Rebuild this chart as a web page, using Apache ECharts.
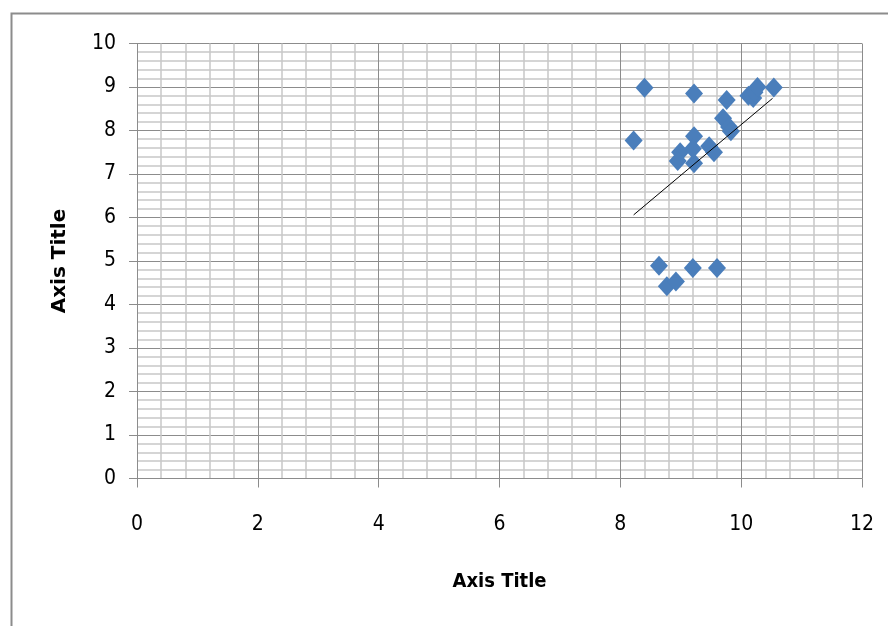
<!DOCTYPE html>
<html>
<head>
<meta charset="utf-8">
<script src="https://cdn.jsdelivr.net/npm/echarts@6/dist/echarts.min.js"></script>
<style>
html,body{margin:0;padding:0;background:#fff;}
#chart{width:888px;height:626px;}
</style>
</head>
<body>
<div id="chart"></div>
<script>
const xValues = [8.22, 8.40, 9.22, 9.76, 9.70, 9.80, 9.83, 9.22, 8.99, 8.95, 9.22, 9.20, 9.47, 9.55, 10.12, 10.20, 10.22, 10.27, 10.54, 8.64, 8.77, 8.92, 9.20, 9.60];
const yValues = [7.77, 8.98, 8.85, 8.70, 8.28, 8.08, 7.98, 7.87, 7.50, 7.30, 7.25, 7.58, 7.64, 7.50, 8.80, 8.75, 8.88, 9.00, 8.99, 4.89, 4.42, 4.53, 4.84, 4.84];
const trendX = [8.22, 10.52];
const trendY = [6.06, 8.74];
const xTicks = [0, 2, 4, 6, 8, 10, 12];
const yTicks = [0, 1, 2, 3, 4, 5, 6, 7, 8, 9, 10];

const tickFont = '"Liberation Sans Narrow", "DejaVu Sans Condensed", sans-serif';
const chart = echarts.init(document.getElementById('chart'), null, {renderer: 'canvas'});
chart.setOption({
  animation: false,
  backgroundColor: '#fff',
  graphic: [{
    type: 'rect', left: 9, top: 11, shape: {width: 900, height: 700},
    style: {fill: 'none', stroke: '#8c8c8c', lineWidth: 2}, z: -1
  }],
  grid: {left: 137, right: 26, top: 43.5, bottom: 147.5},
  xAxis: {
    type: 'value', min: xTicks[0], max: xTicks[xTicks.length - 1], interval: 2,
    name: 'Axis Title', nameLocation: 'middle', nameGap: 93,
    nameTextStyle: {fontFamily: tickFont, fontWeight: 'bold', fontSize: 20, color: '#000'},
    axisLine: {show: true, lineStyle: {color: '#8c8c8c', width: 1}},
    axisTick: {show: true, length: 9, inside: false, lineStyle: {color: '#8c8c8c'}},
    axisLabel: {fontFamily: tickFont, fontSize: 21, color: '#000', margin: 36},
    splitLine: {show: true, lineStyle: {color: '#8c8c8c', width: 1}},
    minorTick: {show: false, splitNumber: 5},
    minorSplitLine: {show: true, lineStyle: {color: '#c8c8c8', width: 1.5}}
  },
  yAxis: {
    type: 'value', min: yTicks[0], max: yTicks[yTicks.length - 1], interval: 1,
    name: 'Axis Title', nameLocation: 'middle', nameGap: 67, nameRotate: 90,
    nameTextStyle: {fontFamily: '"DejaVu Sans", sans-serif', fontWeight: 'bold', fontSize: 20, color: '#000'},
    axisLine: {show: true, lineStyle: {color: '#8c8c8c', width: 1}},
    axisTick: {show: true, length: 8, inside: false, lineStyle: {color: '#8c8c8c'}},
    axisLabel: {fontFamily: tickFont, fontSize: 21, color: '#000', margin: 21},
    splitLine: {show: true, lineStyle: {color: '#8c8c8c', width: 1}},
    minorTick: {show: false, splitNumber: 5},
    minorSplitLine: {show: true, lineStyle: {color: '#c8c8c8', width: 1.5}}
  },
  series: [
    {
      type: 'scatter',
      data: xValues.map((x, i) => [x, yValues[i]]),
      symbol: 'diamond', symbolSize: [18, 20],
      itemStyle: {color: '#4a7ebb', opacity: 1},
      z: 3
    },
    {
      type: 'line',
      data: trendX.map((x, i) => [x, trendY[i]]),
      showSymbol: false, symbol: 'none',
      lineStyle: {color: '#000', width: 1},
      z: 4
    }
  ]
});
</script>
</body>
</html>
